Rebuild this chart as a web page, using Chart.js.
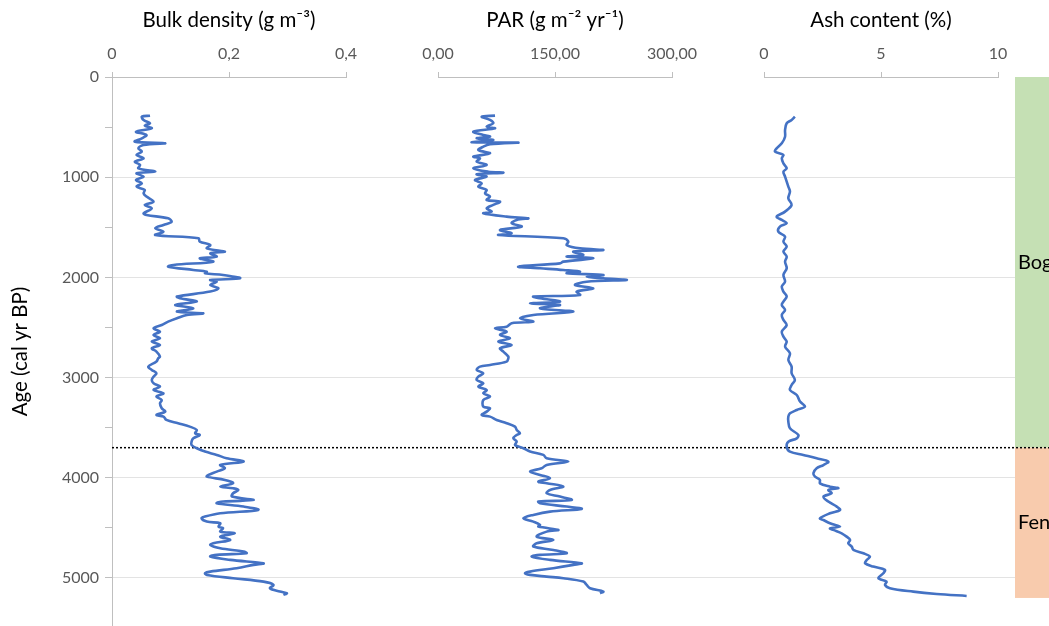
<!DOCTYPE html>
<html>
<head>
<meta charset="utf-8">
<script src="https://cdn.jsdelivr.net/npm/chart.js@4.4.1/dist/chart.umd.min.js"></script>
<style>
  html, body { margin: 0; padding: 0; background: #fff; overflow: hidden; }
</style>
</head>
<body>
<canvas id="core" width="1049" height="626"></canvas>
<script>
// bulk density (g m-3) by age
const bdAge = [386, 396, 429, 462, 486, 512, 546, 579, 612, 645, 662, 679, 712, 745, 778, 812, 845, 878, 912, 945, 961, 995,
    1028, 1061, 1094, 1128, 1161, 1194, 1244, 1277, 1311, 1361, 1377, 1411, 1444, 1477, 1510, 1544, 1577, 1610, 1643, 1677,
    1710, 1743, 1760, 1793, 1810, 1843, 1876, 1893, 1926, 1943, 1959, 1976, 2009, 2026, 2043, 2076, 2109, 2142, 2192, 2209,
    2242, 2275, 2309, 2342, 2359, 2375, 2408, 2442, 2475, 2508, 2542, 2575, 2608, 2641, 2675, 2708, 2741, 2791,
    2808, 2841, 2891, 2924, 2957, 2991, 3024, 3057, 3090, 3124, 3157, 3190, 3224, 3257, 3307, 3340, 3373, 3390, 3423, 3456,
    3490, 3523, 3556, 3573, 3606, 3639, 3673, 3706, 3739, 3772, 3806, 3839, 3872, 3905, 3939, 3972, 3989, 4022, 4055, 4088,
    4105, 4122, 4155, 4188, 4222, 4238, 4255, 4288, 4321, 4355, 4388, 4405, 4438, 4454, 4488, 4504, 4538, 4554, 4588, 4621,
    4654, 4671, 4704, 4737, 4754, 4770, 4787, 4820, 4854, 4870, 4903, 4937, 4953, 4970, 5003, 5037, 5070, 5103, 5136, 5153, 5170]
const bdValue = [0.065, 0.051, 0.054, 0.065, 0.056, 0.068, 0.041, 0.059, 0.051, 0.039, 0.091, 0.054, 0.045, 0.051, 0.042, 0.054,
    0.039, 0.048, 0.045, 0.074, 0.042, 0.054, 0.041, 0.051, 0.042, 0.056, 0.054, 0.059, 0.071, 0.056, 0.068, 0.054, 0.059,
    0.096, 0.102, 0.088, 0.074, 0.088, 0.074, 0.148, 0.150, 0.168, 0.162, 0.193, 0.168, 0.179, 0.150, 0.173, 0.105, 0.096,
    0.139, 0.162, 0.159, 0.190, 0.219, 0.168, 0.179, 0.168, 0.182, 0.168, 0.111, 0.116, 0.145, 0.108, 0.139, 0.111, 0.156,
    0.128, 0.111, 0.096, 0.085, 0.071, 0.082, 0.071, 0.082, 0.068, 0.082, 0.068, 0.076, 0.082,
    0.079, 0.076, 0.062, 0.068, 0.076, 0.071, 0.068, 0.071, 0.082, 0.071, 0.088, 0.076, 0.085, 0.082, 0.085, 0.091, 0.076,
    0.088, 0.093, 0.113, 0.133, 0.145, 0.142, 0.150, 0.139, 0.136, 0.136, 0.145, 0.159, 0.179, 0.196, 0.225, 0.185, 0.193,
    0.179, 0.165, 0.162, 0.193, 0.207, 0.185, 0.207, 0.216, 0.207, 0.205, 0.242, 0.190, 0.179, 0.225, 0.250, 0.185, 0.159,
    0.153, 0.162, 0.185, 0.182, 0.190, 0.185, 0.210, 0.185, 0.202, 0.173, 0.168, 0.185, 0.225, 0.230, 0.179, 0.168, 0.202,
    0.259, 0.242, 0.213, 0.168, 0.159, 0.162, 0.207, 0.259, 0.276, 0.270, 0.287, 0.299, 0.293]

// PAR (g m-2 yr-1) by age
const parAge = [386, 396, 429, 462, 496, 512, 546, 579, 595, 612, 629, 652, 655, 672, 695, 729, 762, 795, 812, 845, 878, 912,
    945, 955, 971, 995, 1028, 1061, 1094, 1128, 1161, 1194, 1228, 1244, 1277, 1311, 1344, 1361, 1394, 1411, 1427, 1460, 1494,
    1527, 1560, 1577, 1610, 1643, 1677, 1710, 1727, 1743, 1776, 1793, 1810, 1843, 1860, 1893, 1909, 1926, 1943, 1959, 1976,
    1993, 2009, 2026, 2043, 2076, 2109, 2142, 2176, 2192, 2209, 2242, 2259, 2275, 2309, 2342, 2375, 2408, 2442, 2458, 2492,
    2508, 2542, 2575, 2608, 2641, 2675, 2708, 2741, 2791,
    2808, 2841, 2874, 2891, 2924, 2957, 2991, 3024, 3057, 3090, 3124, 3157, 3190, 3224, 3290, 3307, 3340, 3373, 3390, 3423,
    3456, 3490, 3523, 3556, 3573, 3606, 3639, 3673, 3706, 3739, 3772, 3806, 3839, 3872, 3905, 3939, 3972, 4005, 4039, 4055,
    4088, 4122, 4155, 4188, 4222, 4238, 4255, 4288, 4311, 4338, 4371, 4405, 4438, 4471, 4488, 4521, 4538, 4588, 4621, 4654,
    4687, 4721, 4754, 4770, 4787, 4820, 4854, 4870, 4903, 4937, 4953, 4970, 4987, 5003, 5037, 5070, 5103, 5136, 5153]
const parValue = [73.1, 56.0, 66.7, 70.9, 62.4, 73.1, 45.3, 58.1, 66.7, 49.6, 70.9, 43.2, 103.0, 66.7, 58.1, 51.7, 66.7, 45.3,
    53.8, 49.6, 62.4, 45.3, 64.5, 83.8, 49.6, 62.4, 47.4, 56.0, 51.7, 62.4, 60.3, 66.7, 62.4, 79.5, 70.9, 62.4, 68.8, 58.1,
    88.0, 115.8, 100.9, 94.4, 107.3, 79.5, 94.4, 77.4, 160.7, 167.1, 165.0, 182.1, 212.0, 173.5, 186.3, 165.0, 199.1, 160.7,
    156.4, 103.0, 130.8, 160.7, 182.1, 165.0, 212.0, 190.6, 212.0, 241.9, 190.6, 175.6, 199.1, 177.8, 182.1, 122.2, 130.8,
    156.4, 118.0, 156.4, 130.8, 173.5, 122.2, 105.1, 122.2, 94.4, 88.0, 73.1, 88.0, 79.5, 92.3, 77.4, 94.4, 79.5, 83.8, 90.2,
    90.2, 88.0, 66.7, 53.8, 49.6, 58.1, 51.7, 49.6, 58.1, 51.7, 62.4, 58.1, 66.7, 58.1, 58.1, 66.7, 62.4, 56.0, 66.7, 75.2,
    88.0, 98.7, 100.9, 105.1, 100.9, 96.6, 100.9, 98.7, 109.4, 118.0, 135.0, 139.3, 167.1, 139.3, 132.9, 118.0, 130.8, 143.6,
    128.6, 139.3, 160.7, 143.6, 139.3, 156.4, 171.4, 128.6, 130.8, 165.0, 184.2, 143.6, 122.2, 109.4, 122.2, 130.8, 128.6,
    154.3, 139.3, 126.5, 147.9, 126.5, 122.2, 147.9, 165.0, 130.8, 120.1, 143.6, 184.2, 173.5, 147.9, 118.0, 111.5, 118.0,
    139.3, 160.7, 186.3, 190.6, 194.9, 212.0, 207.7]

// ash content (%) by age
const ashAge = [396, 429, 462, 529, 596, 662, 712, 745, 778, 812, 862, 912, 945, 995, 1045, 1094, 1144, 1211, 1277, 1344, 1394,
    1427, 1460, 1494, 1544, 1593, 1643, 1693, 1743, 1793, 1843, 1909, 1976, 2043, 2092, 2142, 2192, 2242, 2275, 2325, 2375,
    2425, 2475, 2542, 2592, 2641, 2691, 2758, 2824, 2891, 2957, 3024, 3074, 3124, 3174, 3240, 3290, 3324, 3357, 3390, 3440,
    3507, 3573, 3607, 3640, 3690, 3740, 3773, 3806, 3839, 3873, 3906, 3956, 3989, 4022, 4056, 4089, 4105, 4122, 4155, 4189,
    4238, 4288, 4322, 4355, 4405, 4422, 4455, 4488, 4505, 4521, 4555, 4588, 4621, 4654, 4688, 4721, 4754, 4788, 4821, 4854,
    4887, 4920, 4954, 5004, 5037, 5070, 5103, 5137, 5160, 5180]
const ashValue = [1.32, 1.18, 0.97, 0.90, 0.90, 0.76, 0.54, 0.47, 0.83, 0.76, 0.83, 0.97, 0.83, 0.90, 0.97, 1.04, 1.11, 1.04,
    1.18, 0.90, 0.54, 0.76, 0.97, 0.68, 0.61, 0.90, 0.83, 0.97, 0.83, 0.97, 0.90, 0.97, 0.83, 0.90, 0.76, 0.83, 0.97, 0.83,
    0.76, 0.90, 0.76, 0.83, 0.97, 0.76, 0.83, 0.97, 0.90, 1.11, 1.04, 1.18, 1.18, 1.32, 1.18, 1.11, 1.40, 1.54, 1.75, 1.40,
    1.11, 1.04, 1.04, 1.11, 1.47, 1.40, 1.04, 0.97, 1.11, 1.68, 2.25, 2.75, 2.54, 2.25, 2.11, 2.18, 2.39, 2.39, 2.82, 3.18,
    2.75, 2.89, 2.54, 2.75, 3.11, 3.25, 2.82, 2.39, 2.54, 2.82, 3.25, 2.82, 2.96, 3.32, 3.53, 3.68, 3.60, 3.75, 3.82, 4.25,
    4.53, 4.39, 4.32, 4.67, 5.17, 5.10, 4.89, 5.24, 5.17, 5.38, 6.38, 7.38, 8.66]

// axis ticks
const ageTicks = [0, 500, 1000, 1500, 2000, 2500, 3000, 3500, 4000, 4500, 5000]
const bdTicks = [0, 0.2, 0.4]
const parTicks = [0, 150, 300]
const ashTicks = [0, 5, 10]

// peat zones
const zoneNames = ['Bog', 'Fen']
const zoneStart = [0, 3700]
const zoneEnd = [3700, 5200]

const zoneColors = ['#C5E0B4', '#F8CBAD']
const lineBlue = '#4472C4'
const axisGrey = '#bfbfbf'
const fontFam = 'Lato, "Open Sans", sans-serif'

function toPoints(ages, values) {
    return ages.map((a, i) => ({ x: values[i], y: a }))
}

function fixedTicks(list) {
    return function(scale) {
        scale.ticks = list.map(v => ({ value: v }))
    }
}

function topAxis(min, max, list, title, fmt, weight, stackWeight) {
    return {
        type: 'linear',
        axis: 'x',
        position: 'top',
        stack: 'panels',
        stackWeight: stackWeight,
        weight: weight,
        min: min,
        max: max,
        afterBuildTicks: fixedTicks(list),
        afterFit: function(scale) {
            scale.height = 77
            scale.paddingLeft = 0
            scale.paddingRight = 0
        },
        border: { color: axisGrey, width: 1 },
        grid: { drawOnChartArea: false, drawTicks: true, tickLength: 5, tickColor: axisGrey },
        ticks: {
            autoSkip: false,
            maxRotation: 0,
            padding: 9,
            color: '#595959',
            font: { family: fontFam, size: 16 },
            callback: fmt
        },
        title: {
            display: true,
            text: title,
            color: '#000',
            font: { family: fontFam, size: 20.5 },
            padding: { top: 8, bottom: 0 }
        }
    }
}

function spacer(weight, stackWeight) {
    return {
        type: 'linear',
        axis: 'x',
        position: 'top',
        stack: 'panels',
        stackWeight: stackWeight,
        weight: weight,
        min: 0,
        max: 1,
        display: false
    }
}

const zonePlugin = {
    id: 'zones',
    beforeDatasetsDraw(chart) {
        const { ctx, chartArea, scales } = chart
        const y = scales.y
        const xz = scales.xz
        ctx.save()
        zoneNames.forEach((name, i) => {
            const top = y.getPixelForValue(zoneStart[i])
            const bottom = y.getPixelForValue(zoneEnd[i])
            const left = xz.getPixelForValue(0)
            const right = xz.getPixelForValue(1)
            ctx.fillStyle = zoneColors[i]
            ctx.fillRect(left, top, right - left, bottom - top)
            ctx.fillStyle = '#000'
            ctx.font = '20px ' + fontFam
            ctx.textAlign = 'left'
            ctx.textBaseline = 'middle'
            ctx.fillText(name, left + 3, (top + bottom) / 2)
        })
        // bog / fen boundary
        const yb = y.getPixelForValue(zoneStart[1])
        ctx.strokeStyle = '#000'
        ctx.lineWidth = 1.5
        ctx.setLineDash([2, 2])
        ctx.beginPath()
        ctx.moveTo(chartArea.left, yb)
        ctx.lineTo(chartArea.right, yb)
        ctx.stroke()
        ctx.restore()
    }
}

const lineStyle = {
    borderColor: lineBlue,
    backgroundColor: lineBlue,
    borderWidth: 2.6,
    pointRadius: 0,
    tension: 0.35,
    fill: false,
    yAxisID: 'y'
}

const ctx = document.getElementById('core')
const profileChart = new Chart(ctx, {
    type: 'line',
    data: {
        datasets: [
            Object.assign({ label: 'Bulk density', data: toPoints(bdAge, bdValue), xAxisID: 'x1' }, lineStyle),
            Object.assign({ label: 'PAR', data: toPoints(parAge, parValue), xAxisID: 'x2' }, lineStyle),
            Object.assign({ label: 'Ash content', data: toPoints(ashAge, ashValue), xAxisID: 'x3' }, lineStyle)
        ]
    },
    options: {
        responsive: false,
        animation: false,
        layout: { padding: 0 },
        plugins: { legend: { display: false }, tooltip: { enabled: false } },
        scales: {
            x1: topAxis(0, 0.4, bdTicks, 'Bulk density (g m\u207B\u00B3)',
                v => v === 0 ? '0' : v.toFixed(1).replace('.', ','), 7, 234),
            xg1: spacer(6, 92),
            x2: topAxis(0, 300, parTicks, 'PAR (g m\u207B\u00B2 yr\u207B\u00B9)',
                v => v.toFixed(2).replace('.', ','), 5, 234),
            xg2: spacer(4, 92),
            x3: topAxis(0, 10, ashTicks, 'Ash content (%)', v => String(v), 3, 234),
            xg3: spacer(2, 17),
            xz: spacer(1, 34),
            y: {
                type: 'linear',
                position: 'left',
                reverse: true,
                min: 0,
                max: 5480,
                afterBuildTicks: fixedTicks(ageTicks),
                afterFit: function(scale) {
                    scale.width = 112
                    scale.paddingTop = 0
                    scale.paddingBottom = 0
                },
                border: { color: axisGrey, width: 1 },
                grid: {
                    color: c => (c.tick && c.tick.value > 0 && c.tick.value % 1000 === 0) ? '#e3e3e3' : 'rgba(0,0,0,0)',
                    tickColor: axisGrey,
                    tickLength: 7
                },
                ticks: {
                    autoSkip: false,
                    padding: 6,
                    color: '#595959',
                    font: { family: fontFam, size: 16 },
                    callback: v => v % 1000 === 0 ? String(v) : ''
                },
                title: {
                    display: true,
                    text: 'Age (cal yr BP)',
                    color: '#000',
                    font: { family: fontFam, size: 20.5 },
                    padding: { top: 8, bottom: 0 }
                }
            }
        }
    },
    plugins: [zonePlugin]
})
</script>
</body>
</html>
